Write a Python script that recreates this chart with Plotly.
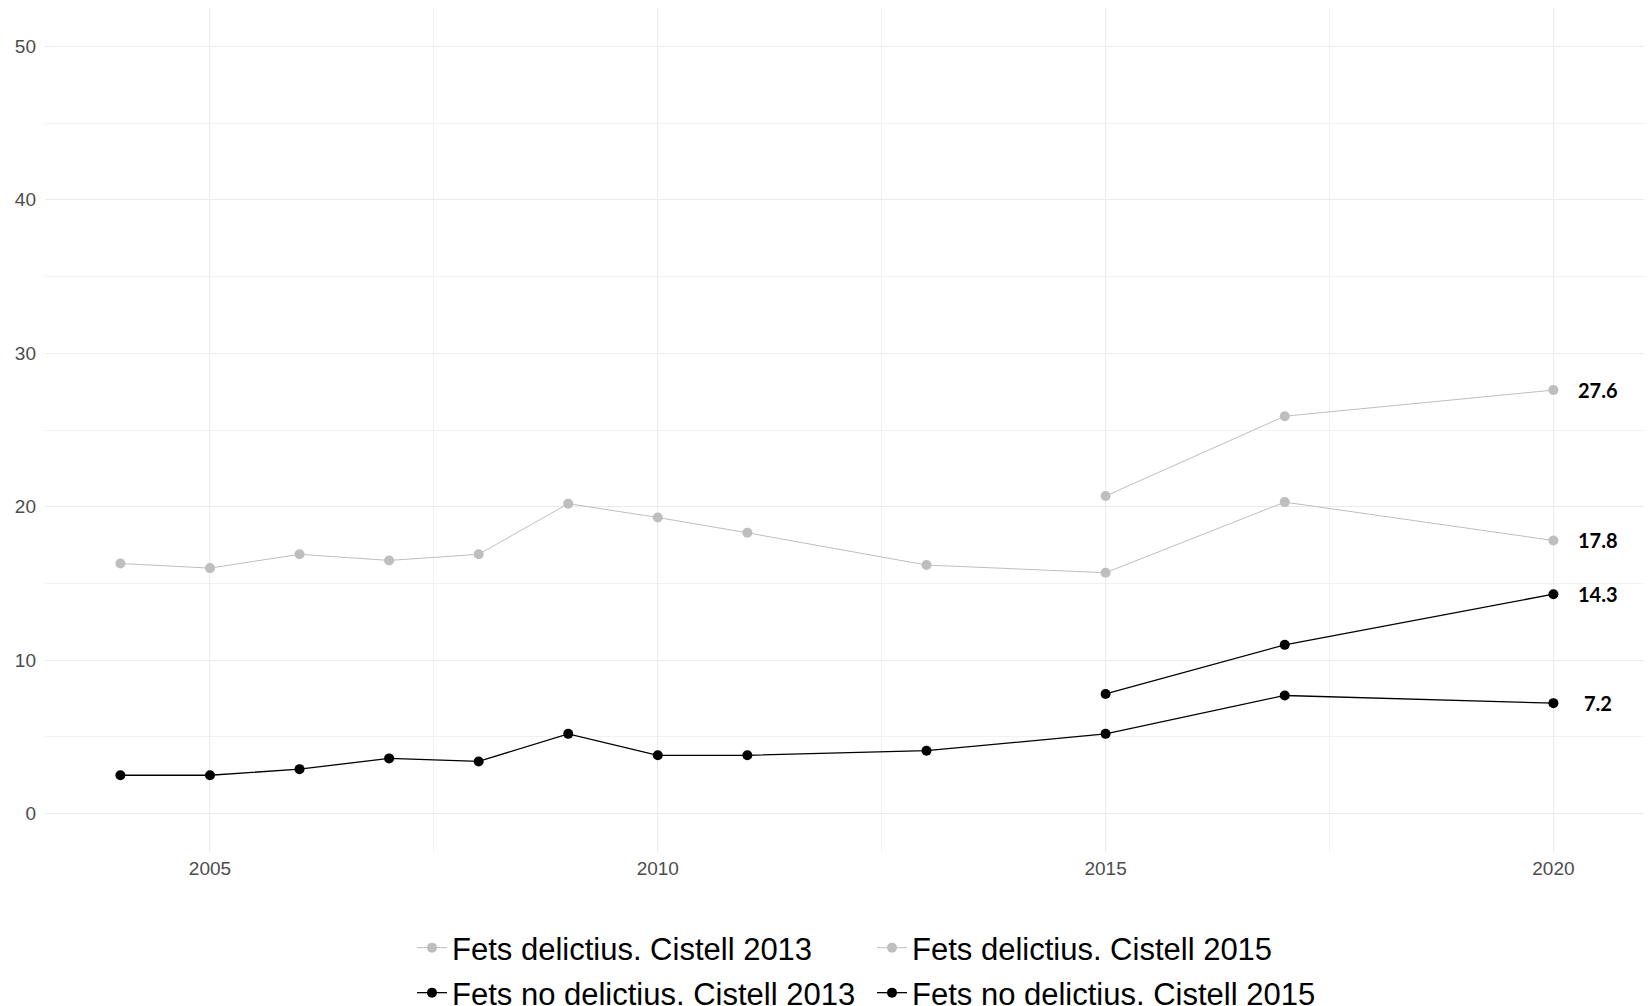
import plotly.graph_objects as go

# ---- data ----
years_2013 = [2004, 2005, 2006, 2007, 2008, 2009, 2010, 2011, 2013, 2015, 2017, 2020]
delictius_2013 = [16.3, 16.0, 16.9, 16.5, 16.9, 20.2, 19.3, 18.3, 16.2, 15.7, 20.3, 17.8]
no_delictius_2013 = [2.5, 2.5, 2.9, 3.6, 3.4, 5.2, 3.8, 3.8, 4.1, 5.2, 7.7, 7.2]

years_2015 = [2015, 2017, 2020]
delictius_2015 = [20.7, 25.9, 27.6]
no_delictius_2015 = [7.8, 11.0, 14.3]

series_names = [
    "Fets delictius. Cistell 2013",
    "Fets no delictius. Cistell 2013",
    "Fets delictius. Cistell 2015",
    "Fets no delictius. Cistell 2015",
]
x_tick_vals = [2005, 2010, 2015, 2020]
y_tick_vals = [0, 10, 20, 30, 40, 50]

GRAY = "#BEBEBE"
BLACK = "#000000"

# (x, y, name, color, line width, legend row)
series = [
    (years_2013, delictius_2013, series_names[0], GRAY, 1.0, "legend"),
    (years_2015, delictius_2015, series_names[2], GRAY, 1.0, "legend"),
    (years_2013, no_delictius_2013, series_names[1], BLACK, 1.3, "legend2"),
    (years_2015, no_delictius_2015, series_names[3], BLACK, 1.3, "legend2"),
]

fig = go.Figure()
for xs, ys, name, color, lw, leg in series:
    fig.add_trace(go.Scatter(
        x=xs, y=ys, name=name, mode="lines+markers",
        line=dict(color=color, width=lw),
        marker=dict(color=color, size=10),
        legend=leg,
    ))

# end-of-line value labels
for xs, ys, name, color, lw, leg in series:
    fig.add_annotation(
        x=xs[-1] + 0.5, y=ys[-1], text=f"{ys[-1]:.1f}",
        showarrow=False, xanchor="center", yanchor="middle",
        font=dict(family="Lato", size=20, color="black", weight="bold"),
    )

legend_common = dict(
    orientation="h",
    xref="container", yref="container",
    x=404 / 1652, xanchor="left", yanchor="top",
    entrywidth=415, entrywidthmode="pixels",
    font=dict(family="Liberation Sans", size=31, color="black"),
    bgcolor="rgba(0,0,0,0)",
)

fig.update_layout(
    width=1652, height=1006,
    plot_bgcolor="white", paper_bgcolor="white",
    margin=dict(l=37, r=0, t=0, b=162, autoexpand=False),
    font=dict(family="Liberation Sans", color="#4D4D4D"),
    legend=dict(legend_common, y=1 - 913 / 1006),
    legend2=dict(legend_common, y=1 - 958 / 1006),
    showlegend=True,
)

fig.update_xaxes(
    range=[2003.158, 2021.19],
    tickvals=x_tick_vals, ticktext=[str(v) for v in x_tick_vals],
    showgrid=True, gridcolor="#EBEBEB", gridwidth=1.3,
    minor=dict(dtick=2.5, tick0=2002.5, showgrid=True, gridcolor="#F2F2F2", gridwidth=0.8),
    zeroline=False, showline=False, ticks="",
    tickfont=dict(family="Liberation Sans", size=19, color="#4D4D4D"),
    ticklabelstandoff=3,
)
fig.update_yaxes(
    range=[-2.5, 52.5],
    tickvals=y_tick_vals, ticktext=[str(v) for v in y_tick_vals],
    showgrid=True, gridcolor="#EBEBEB", gridwidth=1.3,
    minor=dict(dtick=5, tick0=0, showgrid=True, gridcolor="#F2F2F2", gridwidth=0.8),
    zeroline=False, showline=False, ticks="",
    tickfont=dict(family="Liberation Sans", size=19, color="#4D4D4D"),
    ticklabelstandoff=8,
)

fig.write_html("out.html")
